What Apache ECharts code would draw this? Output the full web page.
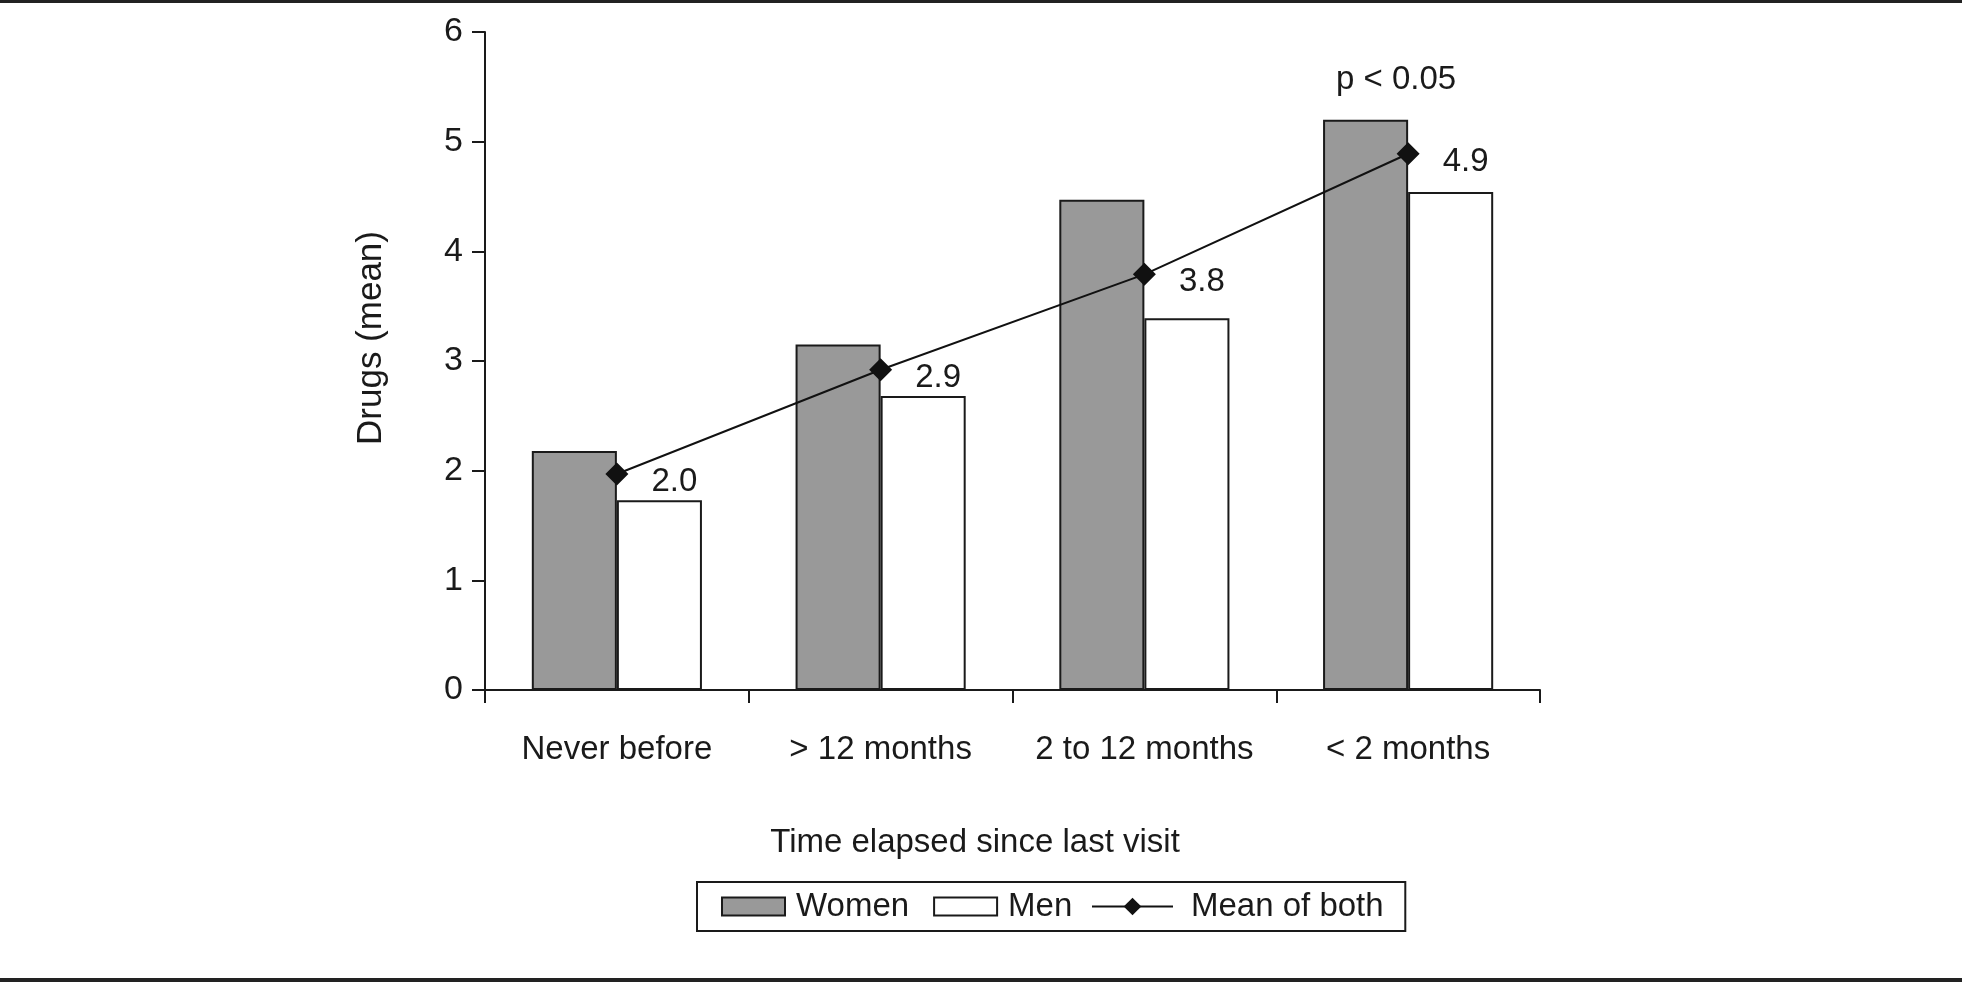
<!DOCTYPE html>
<html>
<head>
<meta charset="utf-8">
<script src="https://cdn.jsdelivr.net/npm/echarts@6/dist/echarts.min.js"></script>
<style>
html,body{margin:0;padding:0;background:#fff;}
#chart{width:1962px;height:982px;}
</style>
</head>
<body>
<div id="chart"></div>
<script>
const categories = ['Never before', '> 12 months', '2 to 12 months', '< 2 months'];
const women = [2.18, 3.15, 4.47, 5.20];
const men = [1.73, 2.68, 3.39, 4.54];
const meanOfBoth = [1.97, 2.92, 3.79, 4.89];
const yTicks = [0, 1, 2, 3, 4, 5, 6];
const pNote = 'p < 0.05';
const pNoteAt = ['< 2 months', 5.56];

const FONT = "'Liberation Sans', Arial, Helvetica, sans-serif";
const INK = '#1a1a1a';
const FS = 33;

const chart = echarts.init(document.getElementById('chart'), null, {renderer: 'canvas'});
chart.setOption({
  animation: false,
  backgroundColor: '#ffffff',
  textStyle: {fontFamily: FONT, color: INK},
  grid: {left: 485, right: 422, top: 32, bottom: 292, containLabel: false},
  xAxis: {
    type: 'category',
    data: categories,
    name: 'Time elapsed since last visit',
    nameLocation: 'middle',
    nameGap: 136,
    nameTextStyle: {fontSize: FS, color: INK, fontFamily: FONT, padding: [0, 75, 0, 0]},
    axisLine: {lineStyle: {color: INK, width: 2}},
    axisTick: {show: true, interval: 0, length: 13, lineStyle: {color: INK, width: 2}},
    axisLabel: {interval: 0, fontSize: FS, color: INK, fontFamily: FONT, margin: 43},
    splitLine: {show: false}
  },
  yAxis: {
    type: 'value',
    min: yTicks[0],
    max: yTicks[yTicks.length - 1],
    interval: 1,
    name: 'Drugs (mean)',
    nameLocation: 'middle',
    nameGap: 96,
    nameRotate: 90,
    nameTextStyle: {fontSize: 35, color: INK, fontFamily: FONT, padding: [0, 0, 0, 46]},
    axisLine: {show: true, lineStyle: {color: INK, width: 2}},
    axisTick: {show: true, length: 13, lineStyle: {color: INK, width: 2}},
    axisLabel: {fontSize: 34, color: INK, fontFamily: FONT, margin: 22},
    splitLine: {show: false}
  },
  legend: [
    {
      data: [{name: 'Women', icon: 'rect'}, {name: 'Men', icon: 'rect'}],
      left: 697,
      top: 882,
      orient: 'horizontal',
      itemWidth: 63,
      itemHeight: 18,
      itemGap: 24,
      padding: [8, 333, 8, 24],
      borderColor: INK,
      borderWidth: 2,
      selectedMode: false,
      itemStyle: {borderColor: INK, borderWidth: 2},
      textStyle: {fontSize: FS, color: INK, fontFamily: FONT, padding: [0, 0, 0, 6]}
    },
    {
      data: ['Mean of both'],
      left: 1091,
      top: 890,
      itemWidth: 81,
      itemHeight: 22,
      padding: 0,
      selectedMode: false,
      textStyle: {fontSize: FS, color: INK, fontFamily: FONT, padding: [0, 0, 0, 13]}
    }
  ],
  graphic: [
    {type: 'rect', shape: {x: 0, y: 0, width: 1962, height: 3}, style: {fill: '#222'}},
    {type: 'rect', shape: {x: 0, y: 978, width: 1962, height: 4}, style: {fill: '#222'}}
  ],
  series: [
    {
      name: 'Women',
      type: 'bar',
      data: women,
      barGap: '0%',
      barCategoryGap: '35.5%',
      itemStyle: {color: '#999999', borderColor: INK, borderWidth: 2}
    },
    {
      name: 'Men',
      type: 'bar',
      data: men,
      itemStyle: {color: '#ffffff', borderColor: INK, borderWidth: 2}
    },
    {
      name: 'Mean of both',
      type: 'line',
      data: meanOfBoth,
      z: 5,
      symbol: 'diamond',
      symbolSize: 23,
      lineStyle: {color: '#111', width: 2},
      itemStyle: {color: '#111'},
      label: {
        show: true,
        position: 'right',
        distance: 23,
        offset: [0, 8],
        fontSize: FS,
        color: INK,
        fontFamily: FONT,
        formatter: p => p.value.toFixed(1)
      },
      markPoint: {
        symbol: 'circle',
        symbolSize: 0,
        silent: true,
        label: {show: true, position: 'inside', fontSize: FS, color: INK, fontFamily: FONT, offset: [-12, 0], formatter: pNote},
        data: [{coord: pNoteAt, value: pNote}]
      }
    }
  ]
});
</script>
</body>
</html>
